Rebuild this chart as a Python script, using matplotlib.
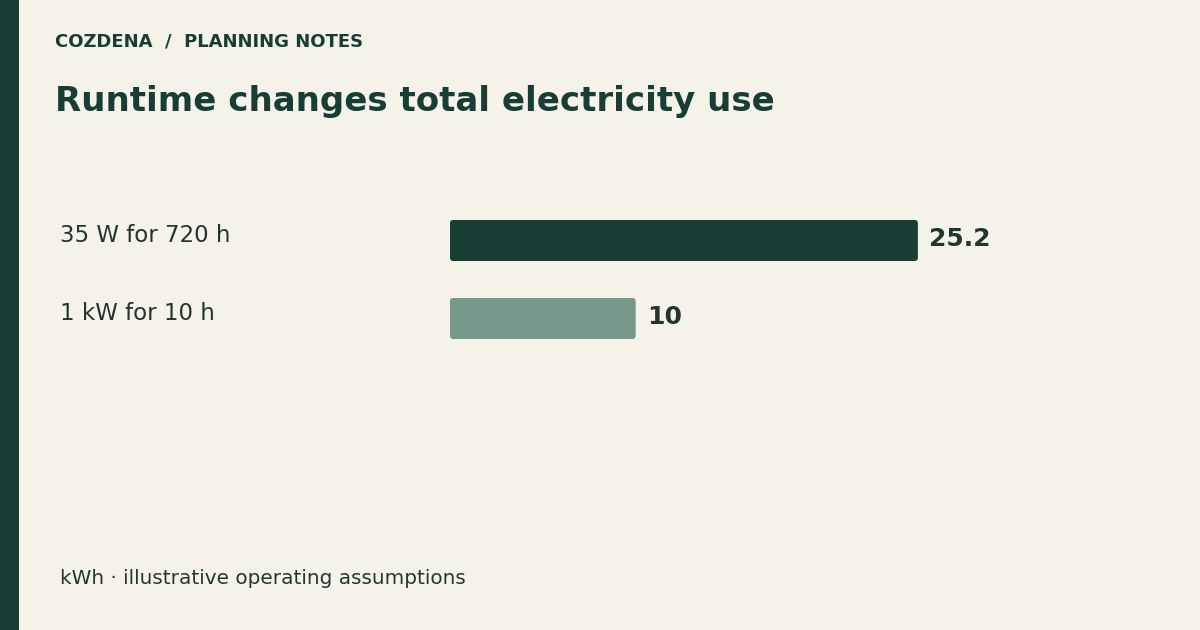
import matplotlib
matplotlib.use("Agg")
import matplotlib.pyplot as plt
from matplotlib.patches import FancyBboxPatch, Rectangle

plt.rcParams["font.family"] = ["DejaVu Sans"]

# data
labels = ["35 W for 720 h", "1 kW for 10 h"]
values = [25.2, 10]
bar_colors = ["#173d34", "#76988a"]

BG = "#f5f2ea"
DARK = "#173d34"
TEXT = "#22362f"

fig = plt.figure(figsize=(12, 6.3), dpi=100, facecolor=BG)

# left accent strip
fig.add_artist(Rectangle((0, 0), 19 / 1200, 1, transform=fig.transFigure,
                         facecolor=DARK, edgecolor="none"))

fig.text(55 / 1200, 1 - 42 / 630, "COZDENA  /  PLANNING NOTES", fontsize=13,
         fontweight="bold", color=DARK, va="center", ha="left")
fig.text(55 / 1200, 1 - 101 / 630, "Runtime changes total electricity use",
         fontsize=24.5, fontweight="bold", color=DARK, va="center", ha="left")

# bars axis: 18.57 px per unit, rows 78 px apart
ax_left = 450 / 1200
ax_w = 557 / 1200
ax_bottom = 1 - 357.5 / 630
ax_h = 156 / 630
ax = fig.add_axes([ax_left, ax_bottom, ax_w, ax_h])
ax.set_facecolor("none")
ax.set_xlim(0, 30)
ax.set_ylim(1.5, -0.5)
ax.axis("off")

bar_h = 41 / 78
px_x = 30 / 557
px_y = 2 / 156
for i, (v, c) in enumerate(zip(values, bar_colors)):
    patch = FancyBboxPatch((0, i - bar_h / 2), v, bar_h,
                           boxstyle="round,pad=0,rounding_size=%f" % (3 * px_x),
                           mutation_aspect=px_y / px_x,
                           facecolor=c, edgecolor="none")
    ax.add_patch(patch)
    ax.text(v + 11 * px_x, i - 1 / 78, f"{v:g}", fontsize=18, fontweight="bold",
            color=TEXT, va="center", ha="left")
    fig.text(60 / 1200, 1 - (235 + 78 * i) / 630, labels[i], fontsize=16.5,
             color=TEXT, va="center", ha="left")

fig.text(60 / 1200, 1 - 578 / 630, "kWh · illustrative operating assumptions",
         fontsize=14.4, color=TEXT, va="center", ha="left")

fig.savefig("out.png", dpi=100, facecolor=BG)
